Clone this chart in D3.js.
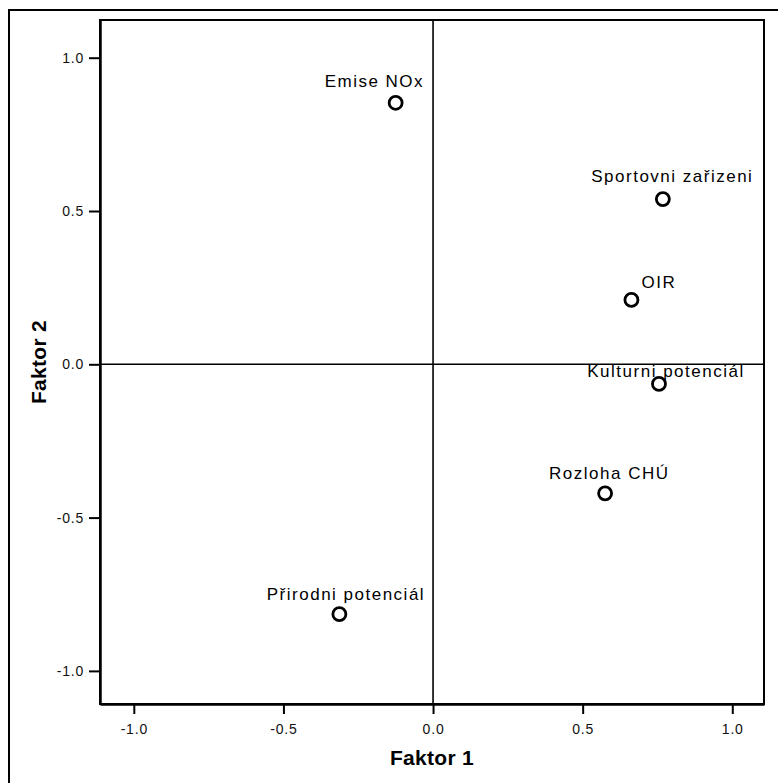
<!DOCTYPE html>
<html>
<head>
<meta charset="utf-8">
<script src="https://cdn.jsdelivr.net/npm/d3@7"></script>
<style>
html,body{margin:0;padding:0;background:#fff;}
svg{display:block;}
</style>
</head>
<body>
<svg id="chart" width="778" height="783"></svg>
<script>
// Data
const variables = ["Emise NOx", "Sportovni zařizeni", "OIR", "Kulturni potenciál", "Rozloha CHÚ", "Přirodni potenciál"];
const faktor1 = [-0.125, 0.768, 0.663, 0.755, 0.575, -0.313];
const faktor2 = [0.853, 0.539, 0.210, -0.064, -0.421, -0.815];
const xTicks = [-1.0, -0.5, 0.0, 0.5, 1.0];
const yTicks = [-1.0, -0.5, 0.0, 0.5, 1.0];
const xTitle = "Faktor 1";
const yTitle = "Faktor 2";

// Label placement (left/baseline offset from point, px)
const labelDx = [-71, -71.6, 10, -71.7, -56, -72.6];
const labelDy = [-16, -17.3, -12, -7.3, -14.3, -14.3];

const svg = d3.select("#chart");
const L = 100, T = 20, R = 764, B = 704;

const x = d3.scaleLinear().domain([-1.113, 1.106]).range([L, R]);
const y = d3.scaleLinear().domain([-1.108, 1.123]).range([B, T]);

// outer frame
svg.append("rect").attr("x", 9).attr("y", 10).attr("width", 800).attr("height", 800)
  .attr("fill", "none").attr("stroke", "#000").attr("stroke-width", 2);

// plot frame
svg.append("rect").attr("x", L).attr("y", T).attr("width", R - L).attr("height", B - T)
  .attr("fill", "none").attr("stroke", "#000").attr("stroke-width", 2);

// zero lines
svg.append("line").attr("x1", x(0)).attr("x2", x(0)).attr("y1", T).attr("y2", B)
  .attr("stroke", "#000").attr("stroke-width", 1.6);
svg.append("line").attr("x1", L).attr("x2", R).attr("y1", y(0)).attr("y2", y(0))
  .attr("stroke", "#000").attr("stroke-width", 1.6);

const fmt = v => d3.format(".1f")(v).replace("\u2212", "-");
const tickFont = "'Liberation Sans', Arial, sans-serif";

// axes
const xAxis = svg.append("g").attr("transform", `translate(0,${B})`)
  .call(d3.axisBottom(x).tickValues(xTicks).tickFormat(fmt).tickSize(10).tickSizeOuter(0).tickPadding(10));
const yAxis = svg.append("g").attr("transform", `translate(${L},0)`)
  .call(d3.axisLeft(y).tickValues(yTicks).tickFormat(fmt).tickSize(11).tickSizeOuter(0).tickPadding(5));
[xAxis, yAxis].forEach(g => {
  g.select(".domain").attr("stroke", "#000").attr("stroke-width", 2.5);
  g.selectAll(".tick line").attr("stroke", "#000").attr("stroke-width", 2);
  g.selectAll(".tick text").attr("fill", "#111").style("font-family", tickFont)
    .style("font-size", "14px").style("letter-spacing", "0.8px");
});

// axis titles
svg.append("text").attr("x", (L + R) / 2).attr("y", 765).attr("text-anchor", "middle")
  .style("font-family", tickFont).style("font-weight", "bold").style("font-size", "21px")
  .style("letter-spacing", "0.3px").text(xTitle);
svg.append("text").attr("transform", `translate(46,${(T + B) / 2}) rotate(-90)`).attr("text-anchor", "middle")
  .style("font-family", tickFont).style("font-weight", "bold").style("font-size", "21px")
  .style("letter-spacing", "0.3px").text(yTitle);

// points
const pts = variables.map((v, i) => ({ name: v, fx: faktor1[i], fy: faktor2[i], dx: labelDx[i], dy: labelDy[i] }));
svg.append("g").selectAll("circle").data(pts).join("circle")
  .attr("cx", d => x(d.fx)).attr("cy", d => y(d.fy)).attr("r", 6.5)
  .attr("fill", "#fff").attr("stroke", "#000").attr("stroke-width", 2.8);

svg.append("g").selectAll("text").data(pts).join("text")
  .attr("x", d => x(d.fx) + d.dx).attr("y", d => y(d.fy) + d.dy)
  .style("font-family", tickFont).style("font-size", "17px").style("letter-spacing", "1.5px")
  .attr("fill", "#000").text(d => d.name);
</script>
</body>
</html>
